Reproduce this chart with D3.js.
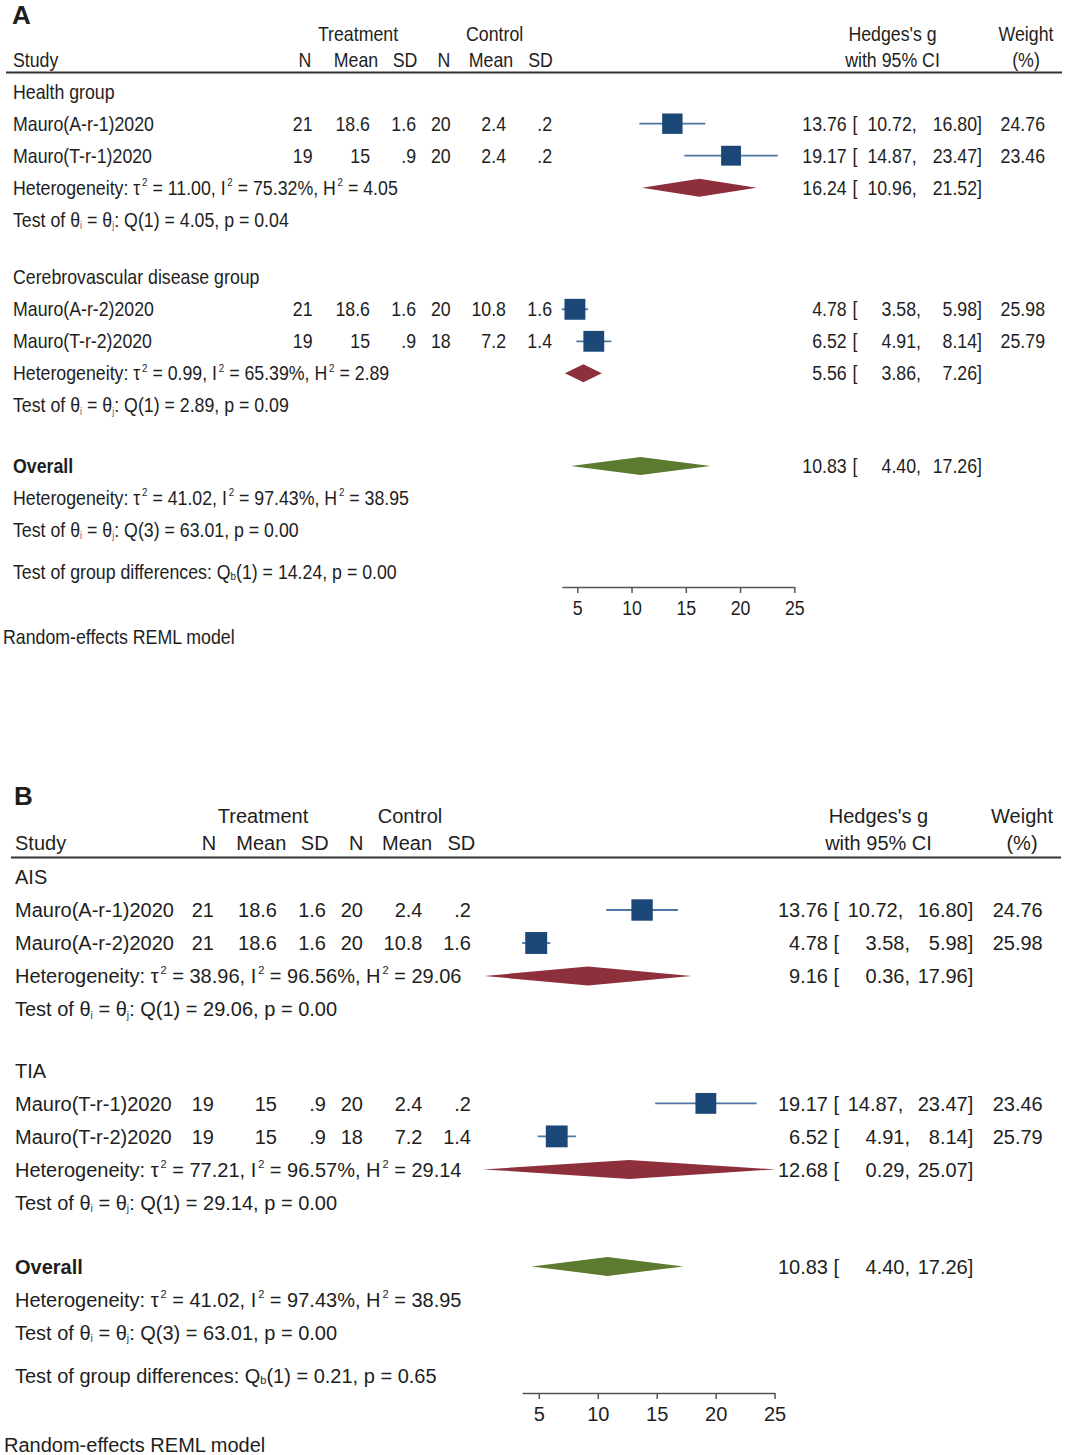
<!DOCTYPE html>
<html><head><meta charset="utf-8">
<script src="https://cdn.jsdelivr.net/npm/d3@7"></script>
<style>
body{margin:0;background:#fff}
svg{display:block}
text{font-family:"Liberation Sans",Arial,Helvetica,sans-serif;fill:#1e1e1e;white-space:pre}
</style>
</head><body>
<svg id="c" width="1066" height="1455"></svg>
<script>
// ================= DATA =================
const studyNames = ["Mauro(A-r-1)2020","Mauro(T-r-1)2020","Mauro(A-r-2)2020","Mauro(T-r-2)2020"];
const treatN    = [21, 19, 21, 19];
const treatMean = [18.6, 15, 18.6, 15];
const treatSD   = [1.6, 0.9, 1.6, 0.9];
const ctrlN     = [20, 20, 20, 18];
const ctrlMean  = [2.4, 2.4, 10.8, 7.2];
const ctrlSD    = [0.2, 0.2, 1.6, 1.4];
const hedgesG   = [13.76, 19.17, 4.78, 6.52];
const ciLow     = [10.72, 14.87, 3.58, 4.91];
const ciHigh    = [16.80, 23.47, 5.98, 8.14];
const weightPct = [24.76, 23.46, 25.98, 25.79];

// Panel A subgroups
const groupNamesA   = ["Health group", "Cerebrovascular disease group"];
const groupMembersA = [[0, 1], [2, 3]];
const subG_A   = [16.24, 5.56];
const subLo_A  = [10.96, 3.86];
const subHi_A  = [21.52, 7.26];
const tau2_A   = [11.00, 0.99];
const I2_A     = [75.32, 65.39];
const H2_A     = [4.05, 2.89];
const Qdf_A    = [1, 1];
const Q_A      = [4.05, 2.89];
const p_A      = [0.04, 0.09];
const diff_A   = {df: 1, Qb: 14.24, p: 0.00};

// Panel B subgroups
const groupNamesB   = ["AIS", "TIA"];
const groupMembersB = [[0, 2], [1, 3]];
const subG_B   = [9.16, 12.68];
const subLo_B  = [0.36, 0.29];
const subHi_B  = [17.96, 25.07];
const tau2_B   = [38.96, 77.21];
const I2_B     = [96.56, 96.57];
const H2_B     = [29.06, 29.14];
const Qdf_B    = [1, 1];
const Q_B      = [29.06, 29.14];
const p_B      = [0.00, 0.00];
const diff_B   = {df: 1, Qb: 0.21, p: 0.65};

// Overall (same for both panels)
const overall = {g: 10.83, lo: 4.40, hi: 17.26, tau2: 41.02, I2: 97.43, H2: 38.95, df: 3, Q: 63.01, p: 0.00};

const axisTicks = [5, 10, 15, 20, 25];
const axisMax = 25;

// ================= LAYOUT =================
const cfgA = {label:"A", fs:19.4, sx:0.915, labelX:12, labelBase:24,
  h1:34, h2:60, lineY:72.5, lineX:[6,1062], textX:13,
  colR:[312.5,370,416,450.7,506,552], hdrC:[305,356,405,444,491,540.5], treatC:358, ctrlC:494.6,
  hedgesC:892.5, weightC:1026,
  effR:846.7, brL:852.5, loR:916.7, loShift:4.3, hiR:982, wR:1045,
  y0:91.7, step:32, gapGroup:1.8, gapOverall:1.9, gapDiff:1.3,
  x5:577.3, x25:794.3, axisY:587, tickLabelY:608, modelY:637.5, modelX:3, sq:4.1, diaH:18,
  subColor:"#8a5576"};
const cfgB = {label:"B", fs:20, sx:1, labelX:14, labelBase:805,
  h1:816, h2:843, lineY:857.5, lineX:[11,1061], textX:15,
  colR:[214,277,326,363,422.5,471], hdrC:[209,261.3,314.7,356.3,407,461.3], treatC:263, ctrlC:410,
  hedgesC:878.5, weightC:1022,
  effR:828, brL:833.5, loR:903.3, loShift:6.7, hiR:973.3, wR:1042.7,
  y0:877, step:33, gapGroup:1.86, gapOverall:1.94, gapDiff:1.32,
  x5:538.8, x25:774.6, axisY:1393, tickLabelY:1414, modelY:1445, modelX:4, sq:4.3, diaH:19,
  subColor:"#444"};

const COL_TEXT = "#1e1e1e", COL_CI = "#4d77a3", COL_SQ = "#1b4877",
      COL_SUB = "#8e2f3c", COL_OV = "#5d7b30", COL_AX = "#555";

const svg = d3.select("#c");

function fmtV(v){ const s = String(v); return s.startsWith("0.") ? s.slice(1) : s; }
function f2(v){ return v.toFixed(2); }

function richText(g, cfg, x, yc, anchor, segs, opts={}) {
  const fs = opts.fs || cfg.fs;
  const base = yc + 0.36*fs;
  const t = g.append("text")
    .attr("transform", `translate(${x},${base}) scale(${cfg.sx},1)`)
    .attr("text-anchor", anchor)
    .style("font-size", fs + "px");
  if (opts.bold) t.style("font-weight", "bold");
  let shift = 0;
  segs.forEach(s => {
    if (typeof s === "string") s = {t: s};
    const sp = t.append("tspan").text(s.t);
    let target = 0, size = fs;
    if (s.sup) { target = -0.45*fs; size = 0.55*fs; sp.attr("dx", 0.1*fs); }
    if (s.sub) { target = 0.12*fs; size = 0.52*fs; sp.style("fill", cfg.subColor); }
    if (s.subb) { target = 0.06*fs; size = 0.55*fs; }
    sp.style("font-size", size + "px");
    if (target - shift !== 0) sp.attr("dy", target - shift);
    shift = target;
  });
  return t;
}

function drawPanel(cfg, P) {
  const g = svg.append("g");
  const x = d3.scaleLinear().domain([5, axisMax]).range([cfg.x5, cfg.x25]);
  const ySlot = d3.scaleLinear().domain([0, 1]).range([cfg.y0, cfg.y0 + cfg.step]);

  // panel label
  g.append("text").attr("x", cfg.labelX).attr("y", cfg.labelBase)
    .style("font-size", "26px").style("font-weight", "bold").text(cfg.label);

  // headers
  richText(g, cfg, cfg.treatC, cfg.h1, "middle", ["Treatment"]);
  richText(g, cfg, cfg.ctrlC, cfg.h1, "middle", ["Control"]);
  richText(g, cfg, cfg.textX, cfg.h2, "start", ["Study"]);
  ["N","Mean","SD","N","Mean","SD"].forEach((h, i) =>
    richText(g, cfg, cfg.hdrC[i], cfg.h2, "middle", [h]));
  richText(g, cfg, cfg.hedgesC, cfg.h1, "middle", ["Hedges's g"]);
  richText(g, cfg, cfg.hedgesC, cfg.h2, "middle", ["with 95% CI"]);
  richText(g, cfg, cfg.weightC, cfg.h1, "middle", ["Weight"]);
  richText(g, cfg, cfg.weightC, cfg.h2, "middle", ["(%)"]);
  g.append("line").attr("x1", cfg.lineX[0]).attr("x2", cfg.lineX[1])
    .attr("y1", cfg.lineY).attr("y2", cfg.lineY)
    .attr("stroke", "#333").attr("stroke-width", 2.2);

  function ciText(yc, est, lo, hi, w) {
    richText(g, cfg, cfg.effR, yc, "end", [f2(est)]);
    richText(g, cfg, cfg.brL, yc, "start", ["["]);
    richText(g, cfg, cfg.loR + (lo < 10 ? cfg.loShift : 0), yc, "end", [f2(lo) + ","]);
    richText(g, cfg, cfg.hiR, yc, "end", [f2(hi) + "]"]);
    if (w != null) richText(g, cfg, cfg.wR, yc, "end", [f2(w)]);
  }
  function diamond(yc, est, lo, hi, color) {
    const h = cfg.diaH / 2;
    g.append("polygon")
      .attr("points", [[x(lo), yc], [x(est), yc - h], [x(hi), yc], [x(est), yc + h]].map(p => p.join(",")).join(" "))
      .attr("fill", color);
  }
  function hetSegs(t2, i2, h2) {
    return ["Heterogeneity: τ", {t:"2", sup:true}, " = " + f2(t2) + ", I", {t:"2", sup:true},
            " = " + f2(i2) + "%, H", {t:"2", sup:true}, " = " + f2(h2)];
  }
  function testSegs(df, q, p) {
    return ["Test of θ", {t:"i", sub:true}, " = θ", {t:"j", sub:true}, ": Q(" + df + ") = " + f2(q) + ", p = " + f2(p)];
  }

  let slot = 0;
  P.groupNames.forEach((gn, gi) => {
    if (gi > 0) slot += cfg.gapGroup;
    richText(g, cfg, cfg.textX, ySlot(slot), "start", [gn]);
    P.members[gi].forEach(si => {
      slot += 1;
      const yc = ySlot(slot);
      richText(g, cfg, cfg.textX, yc, "start", [studyNames[si]]);
      [treatN[si], treatMean[si], treatSD[si], ctrlN[si], ctrlMean[si], ctrlSD[si]].forEach((v, ci) =>
        richText(g, cfg, cfg.colR[ci], yc, "end", [fmtV(v)]));
      g.append("line").attr("x1", x(ciLow[si])).attr("x2", x(ciHigh[si]))
        .attr("y1", yc).attr("y2", yc).attr("stroke", COL_CI).attr("stroke-width", 1.8);
      const side = cfg.sq * Math.sqrt(weightPct[si]);
      g.append("rect").attr("x", x(hedgesG[si]) - side/2).attr("y", yc - side/2)
        .attr("width", side).attr("height", side).attr("fill", COL_SQ);
      ciText(yc, hedgesG[si], ciLow[si], ciHigh[si], weightPct[si]);
    });
    slot += 1;
    let yc = ySlot(slot);
    richText(g, cfg, cfg.textX, yc, "start", hetSegs(P.tau2[gi], P.I2[gi], P.H2[gi]));
    diamond(yc, P.subG[gi], P.subLo[gi], P.subHi[gi], COL_SUB);
    ciText(yc, P.subG[gi], P.subLo[gi], P.subHi[gi], null);
    slot += 1;
    richText(g, cfg, cfg.textX, ySlot(slot), "start", testSegs(P.Qdf[gi], P.Q[gi], P.p[gi]));
  });

  slot += cfg.gapOverall;
  let yc = ySlot(slot);
  richText(g, cfg, cfg.textX, yc, "start", ["Overall"], {bold: true});
  diamond(yc, overall.g, overall.lo, overall.hi, COL_OV);
  ciText(yc, overall.g, overall.lo, overall.hi, null);
  slot += 1;
  richText(g, cfg, cfg.textX, ySlot(slot), "start", hetSegs(overall.tau2, overall.I2, overall.H2));
  slot += 1;
  richText(g, cfg, cfg.textX, ySlot(slot), "start", testSegs(overall.df, overall.Q, overall.p));
  slot += cfg.gapDiff;
  richText(g, cfg, cfg.textX, ySlot(slot), "start",
    ["Test of group differences: Q", {t:"b", subb:true}, "(" + P.diff.df + ") = " + f2(P.diff.Qb) + ", p = " + f2(P.diff.p)]);

  // axis
  const lo = d3.min(ciLow);
  const axScale = x.copy().domain([lo, axisMax]).range([x(lo), x(axisMax)]);
  const ax = g.append("g").attr("transform", `translate(0,${cfg.axisY})`)
    .call(d3.axisBottom(axScale).tickValues(axisTicks).tickSize(6).tickSizeOuter(0).tickFormat(d3.format("d")));
  ax.attr("font-size", null).attr("font-family", null);
  ax.select(".domain").attr("stroke", COL_AX).attr("stroke-width", 1.5);
  ax.selectAll(".tick line").attr("stroke", COL_AX).attr("stroke-width", 1.5);
  ax.selectAll(".tick text")
    .attr("fill", null).attr("dy", null)
    .attr("y", cfg.tickLabelY + 0.36*cfg.fs - cfg.axisY)
    .attr("transform", `scale(${cfg.sx},1)`)
    .style("font-size", cfg.fs + "px").style("fill", COL_TEXT);

  richText(g, cfg, cfg.modelX, cfg.modelY, "start", ["Random-effects REML model"]);
}

drawPanel(cfgA, {groupNames: groupNamesA, members: groupMembersA, subG: subG_A, subLo: subLo_A, subHi: subHi_A,
  tau2: tau2_A, I2: I2_A, H2: H2_A, Qdf: Qdf_A, Q: Q_A, p: p_A, diff: diff_A});
drawPanel(cfgB, {groupNames: groupNamesB, members: groupMembersB, subG: subG_B, subLo: subLo_B, subHi: subHi_B,
  tau2: tau2_B, I2: I2_B, H2: H2_B, Qdf: Qdf_B, Q: Q_B, p: p_B, diff: diff_B});
</script>
</body></html>
